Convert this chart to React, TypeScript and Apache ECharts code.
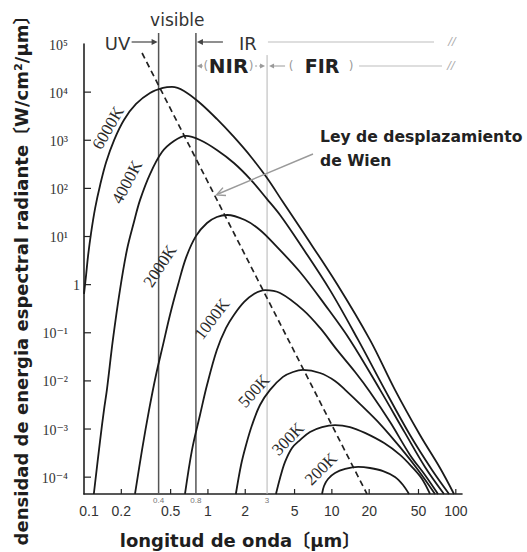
import React, { useEffect, useRef } from 'react';
import * as echarts from 'echarts';

// ---- data (wavelength in µm, radiance in W/cm²/µm) ----
const curveNames = ['6000K', '4000K', '2000K', '1000K', '500K', '300K', '200K'];

const lambda6000 = [0.1, 0.104, 0.108, 0.114, 0.123, 0.135, 0.151, 0.175, 0.21, 0.263, 0.341, 0.434, 0.513, 0.641, 0.863, 1.18, 1.62, 2.23, 3.0, 4.03, 5.85, 11.0, 20.3, 32.3, 51.4, 74.6, 96.7];
const value6000 = [0.64, 1.6, 4.1, 11.8, 39, 118, 353, 1010, 2640, 5670, 9590, 12200, 12800, 10600, 5950, 2770, 1170, 449, 164, 52, 12.4, 1.03, 0.071, 0.0065, 0.00075, 0.000155, 0.0000447];

const lambda4000 = [0.12, 0.135, 0.145, 0.153, 0.171, 0.195, 0.222, 0.253, 0.283, 0.341, 0.426, 0.532, 0.665, 0.863, 1.18, 1.62, 2.23, 3.0, 3.82, 5.53, 9.66, 16.3, 26.8, 42.7, 64.3, 88.2];
const value4000 = [0.0000447, 0.00059, 0.0025, 0.0065, 0.071, 0.77, 5.25, 20, 57, 199, 570, 965, 1230, 1010, 628, 337, 149, 60, 28, 7.0, 0.77, 0.071, 0.0065, 0.00075, 0.000141, 0.0000447];

const lambda2000 = [0.258, 0.294, 0.335, 0.381, 0.434, 0.494, 0.573, 0.665, 0.802, 0.983, 1.18, 1.43, 1.99, 2.63, 3.48, 5.53, 8.81, 14.0, 24.5, 38.9, 56.4, 80.3];
const value2000 = [0.0000447, 0.00037, 0.0025, 0.0133, 0.056, 0.234, 0.98, 3.6, 10.3, 19.1, 25.4, 28, 22, 13.7, 6.7, 1.83, 0.38, 0.071, 0.0065, 0.00083, 0.000163, 0.0000447];

const lambda1000 = [0.653, 0.744, 0.863, 0.983, 1.18, 1.4, 1.62, 1.96, 2.35, 2.89, 3.82, 5.85, 8.03, 11.0, 15.4, 20.3, 29.5, 42.7, 56.4, 71.8];
const value1000 = [0.0000447, 0.00037, 0.00196, 0.0082, 0.044, 0.126, 0.234, 0.436, 0.64, 0.77, 0.67, 0.3, 0.126, 0.044, 0.0153, 0.0059, 0.0014, 0.00029, 0.000111, 0.0000447];

const lambda500 = [1.68, 1.85, 2.03, 2.27, 2.63, 3.17, 4.03, 4.86, 5.85, 8.03, 10.6, 12.8, 16.9, 24.5, 35.5, 49.6, 67.9];
const value500 = [0.0000447, 0.000179, 0.000466, 0.00121, 0.00316, 0.0065, 0.0121, 0.0153, 0.0169, 0.0146, 0.01, 0.0065, 0.0033, 0.00127, 0.00042, 0.000141, 0.0000447];

const lambda300 = [3.54, 3.82, 4.19, 4.77, 5.53, 6.66, 8.33, 10.6, 14.0, 18.5, 26.4, 35.5, 44.3, 53.4, 61.9];
const value300 = [0.0000447, 0.0000961, 0.000207, 0.000404, 0.00059, 0.00087, 0.0011, 0.00121, 0.0011, 0.00083, 0.00051, 0.00029, 0.000163, 0.0000916, 0.0000447];

const lambda200 = [8.33, 8.64, 9.31, 10.6, 12.8, 16.3, 20.3, 25.9, 32.3, 37.5, 41.9];
const value200 = [0.0000447, 0.0000655, 0.0000916, 0.000122, 0.000148, 0.000163, 0.000155, 0.000134, 0.000101, 0.0000688, 0.0000447];

// Wien displacement line (straight in log-log)
const wienLambda = [0.294, 19.2];
const wienValue = [65000, 0.0000447];

// region boundaries (µm)
const bandEdges = [0.4, 0.8, 3];
const bandEdgeLabels = ['0.4', '0.8', '3'];

// ticks
const xTickValues = [0.1, 0.2, 0.5, 1, 2, 5, 10, 20, 50, 100];
const xTickLabels = ['0.1', '0.2', '0.5', '1', '2', '5', '10', '20', '50', '100'];
const yTickValues = [1e5, 1e4, 1e3, 1e2, 1e1, 1, 1e-1, 1e-2, 1e-3, 1e-4];
const yTickLabels = ['10⁵', '10⁴', '10³', '10²', '10¹', '1', '10⁻¹', '10⁻²', '10⁻³', '10⁻⁴'];

// ---- layout constants (log10 space) ----
const X_MIN = -1;
const X_MAX = 2.05;
const Y_MIN = -4.35;
const Y_MAX = 5;
const BAND_TOP = [5.23, 5.23, 4.77];
const BAND_COLOR = ['#555', '#555', '#b5b5b5'];
const BAND_WIDTH = [1.5, 1.5, 1];

const curveLambdas = [lambda6000, lambda4000, lambda2000, lambda1000, lambda500, lambda300, lambda200];
const curveValues = [value6000, value4000, value2000, value1000, value500, value300, value200];

// curve label placement (pixels) and rotation (deg)
const curveLabelPos = [
  [108, 128, 60],
  [127, 182, 62],
  [160, 266, 57],
  [212, 319, 53],
  [254, 391, 48],
  [288, 439, 46],
  [321, 469, 45],
];

const lg = (v: number) => Math.log10(v);

export default function App() {
  const ref = useRef<HTMLDivElement>(null);

  useEffect(() => {
    if (!ref.current) return;
    const chart = echarts.init(ref.current, null, { renderer: 'svg' });

    const curveSeries: any[] = curveNames.map((name, k) => ({
      name,
      type: 'line',
      smooth: 0.35,
      symbol: 'none',
      silent: true,
      z: 5,
      lineStyle: { color: '#1a1a1a', width: 1.8 },
      data: curveLambdas[k].map((l, i) => [lg(l), lg(curveValues[k][i])]),
    }));

    const wienSeries = {
      name: 'Wien',
      type: 'line',
      symbol: 'none',
      silent: true,
      z: 4,
      lineStyle: { color: '#222', width: 1.7, type: [6, 4] },
      data: wienLambda.map((l, i) => [lg(l), lg(wienValue[i])]),
    };

    const bandSeries = bandEdges.map((b, i) => ({
      name: 'band' + i,
      type: 'line',
      symbol: 'none',
      silent: true,
      clip: false,
      z: 3,
      lineStyle: { color: BAND_COLOR[i], width: BAND_WIDTH[i] },
      data: [[lg(b), Y_MIN], [lg(b), BAND_TOP[i]]],
    }));

    const textStyle = (text: string, font: string, fill: string, align: string, valign: string) => ({
      text, font, fill,
      align, textAlign: align,
      verticalAlign: valign, textVerticalAlign: valign,
    });

    const xTickSeries = {
      type: 'custom',
      coordinateSystem: 'cartesian2d',
      silent: true,
      clip: false,
      z: 6,
      data: xTickValues.map((v) => [lg(v), Y_MIN]),
      encode: { x: 0, y: 1 },
      renderItem: (params: any, api: any) => {
        const p = api.coord([api.value(0), api.value(1)]);
        const i = params.dataIndex;
        const children: any[] = [];
        if (i > 0) {
          children.push({ type: 'line', shape: { x1: p[0], y1: p[1], x2: p[0], y2: p[1] - 5 }, style: { stroke: '#222', lineWidth: 1.2 } });
        }
        children.push({ type: 'text', x: p[0] + (i === 0 ? 5 : 0), y: p[1] + 17, style: textStyle(xTickLabels[i], '14px "Liberation Sans", Arial', '#333', 'center', 'middle') });
        return { type: 'group', children };
      },
    };

    const yTickSeries = {
      type: 'custom',
      coordinateSystem: 'cartesian2d',
      silent: true,
      clip: false,
      z: 6,
      data: yTickValues.map((v) => [X_MIN, lg(v)]),
      encode: { x: 0, y: 1 },
      renderItem: (params: any, api: any) => {
        const p = api.coord([api.value(0), api.value(1)]);
        const i = params.dataIndex;
        const label = yTickLabels[i];
        const children: any[] = [];
        if (i > 0) {
          children.push({ type: 'line', shape: { x1: p[0], y1: p[1], x2: p[0] + 7, y2: p[1] }, style: { stroke: '#222', lineWidth: 1.2 } });
        }
        children.push({ type: 'text', x: label === '1' ? p[0] - 4 : p[0] - 16, y: p[1] + 1, style: textStyle(label, '14px "Liberation Serif", "DejaVu Serif", serif', '#333', 'right', 'middle') });
        return { type: 'group', children };
      },
    };

    const bandLabelSeries = {
      type: 'custom',
      coordinateSystem: 'cartesian2d',
      silent: true,
      clip: false,
      z: 6,
      data: bandEdges.map((v) => [lg(v), Y_MIN]),
      encode: { x: 0, y: 1 },
      renderItem: (params: any, api: any) => {
        const p = api.coord([api.value(0), api.value(1)]);
        return { type: 'text', x: p[0], y: p[1] + 6, style: textStyle(bandEdgeLabels[params.dataIndex], '8px "Liberation Sans", Arial', '#777', 'center', 'middle') };
      },
    };

    chart.setOption({
      animation: false,
      backgroundColor: '#ffffff',
      grid: { left: 84, top: 44, width: 378, height: 450, containLabel: false },
      xAxis: {
        type: 'value', min: X_MIN, max: X_MAX,
        axisLine: { show: true, onZero: false, lineStyle: { color: '#222', width: 1.6 } },
        axisTick: { show: false }, axisLabel: { show: false }, splitLine: { show: false },
      },
      yAxis: {
        type: 'value', min: Y_MIN, max: Y_MAX,
        axisLine: { show: true, onZero: false, lineStyle: { color: '#222', width: 1.6 } },
        axisTick: { show: false }, axisLabel: { show: false }, splitLine: { show: false },
      },
      series: [...bandSeries, wienSeries, ...curveSeries, xTickSeries, yTickSeries, bandLabelSeries],
    });

    const toPx = (l: number) => (chart.convertToPixel({ gridIndex: 0 }, [lg(l), Y_MAX]) as number[])[0];
    const x04 = toPx(bandEdges[0]);
    const x08 = toPx(bandEdges[1]);
    const x3 = toPx(bandEdges[2]);

    const dark = '#333';
    const gray = '#9a9a9a';
    const sans = '"DejaVu Sans", "Noto Sans", sans-serif';
    const txt = (text: string, x: number, y: number, font: string, fill = dark, align = 'center', rot = 0) => ({
      type: 'text', x, y, rotation: rot, silent: true, z: 10,
      style: textStyle(text, font, fill, align, 'middle'),
    });
    const ln = (x1: number, y1: number, x2: number, y2: number, stroke: string, lineWidth = 1, lineDash: any = null) => ({
      type: 'line', silent: true, z: 10, shape: { x1, y1, x2, y2 }, style: { stroke, lineWidth, lineDash },
    });
    const head = (x: number, y: number, dir: number, fill: string, size = 6) => ({
      type: 'polygon', silent: true, z: 10,
      shape: { points: [[x, y], [x - dir * size, y - size * 0.5], [x - dir * size, y + size * 0.5]] },
      style: { fill },
    });

    const elements: any[] = [
      txt('visible', (x04 + x08) / 2, 20, '17px ' + sans),
      txt('UV', x04 - 41, 43, '18px ' + sans),
      ln(x04 - 27, 42, x04 - 4, 42, '#444', 1.2),
      head(x04 - 1, 42, 1, '#444', 6),
      ln(x08 + 4, 42, x08 + 27, 42, '#444', 1.2),
      head(x08 + 1, 42, -1, '#444', 6),
      txt('IR', x08 + 52, 43, '18px ' + sans),
      ln(x08 + 72, 42, 434, 42, '#bdbdbd', 1),
      txt('//', 452, 41, 'italic 11px ' + sans, '#aaa'),
      // NIR row
      head(x08 + 1, 66, -1, gray, 5),
      ln(x08 + 5, 66, x08 + 8, 66, gray, 1, [2, 2]),
      txt('(', x08 + 10, 66, '12px ' + sans, gray),
      txt('NIR', (x08 + x3) / 2 - 3, 66, 'bold 20px ' + sans, '#222'),
      txt(')', x3 - 16, 66, '12px ' + sans, gray),
      ln(x3 - 12, 66, x3 - 6, 66, gray, 1, [2, 2]),
      head(x3 - 2, 66, 1, gray, 5),
      // FIR row
      head(x3 + 2, 66, -1, gray, 5),
      ln(x3 + 6, 66, x3 + 18, 66, gray, 1),
      txt('(', x3 + 24, 66, '12px ' + sans, gray),
      txt('FIR', x3 + 55, 66, 'bold 19px ' + sans, '#222'),
      txt(')', x3 + 84, 66, '12px ' + sans, gray),
      ln(x3 + 92, 66, 442, 66, '#bdbdbd', 1),
      txt('//', 451, 65, 'italic 11px ' + sans, '#aaa'),
      // Wien annotation
      txt('Ley de desplazamiento', 320, 137, 'bold 15.6px ' + sans, '#222', 'left'),
      txt('de Wien', 320, 161, 'bold 15.6px ' + sans, '#222', 'left'),
      ln(313, 154, 218, 194, '#9a9a9a', 1.4),
      { type: 'polyline', silent: true, z: 10, shape: { points: [[223, 187.6], [216.5, 195], [226, 195.5]] }, style: { stroke: '#9a9a9a', lineWidth: 1.4, fill: null } },
      // axis titles
      txt('densidad de energia espectral radiante〔W/cm²/μm〕', 21, 276, 'bold 18px "DejaVu Sans", "Noto Sans CJK JP", sans-serif', '#1e1e1e', 'center', Math.PI / 2),
      txt('longitud de onda〔μm〕', 240, 540, 'bold 18px "DejaVu Sans", "Noto Sans CJK JP", sans-serif', '#1e1e1e'),
    ];

    curveNames.forEach((name, k) => {
      const [cx, cy, deg] = curveLabelPos[k];
      elements.push(txt(name, cx, cy, '17px "Liberation Serif", "DejaVu Serif", serif', '#2a2a2a', 'center', (deg * Math.PI) / 180));
    });

    chart.setOption({ graphic: { elements } });

    return () => chart.dispose();
  }, []);

  return (
    <div
      ref={ref}
      style={{ position: 'absolute', left: 0, top: 0, width: 527, height: 552, background: '#fff' }}
    />
  );
}
